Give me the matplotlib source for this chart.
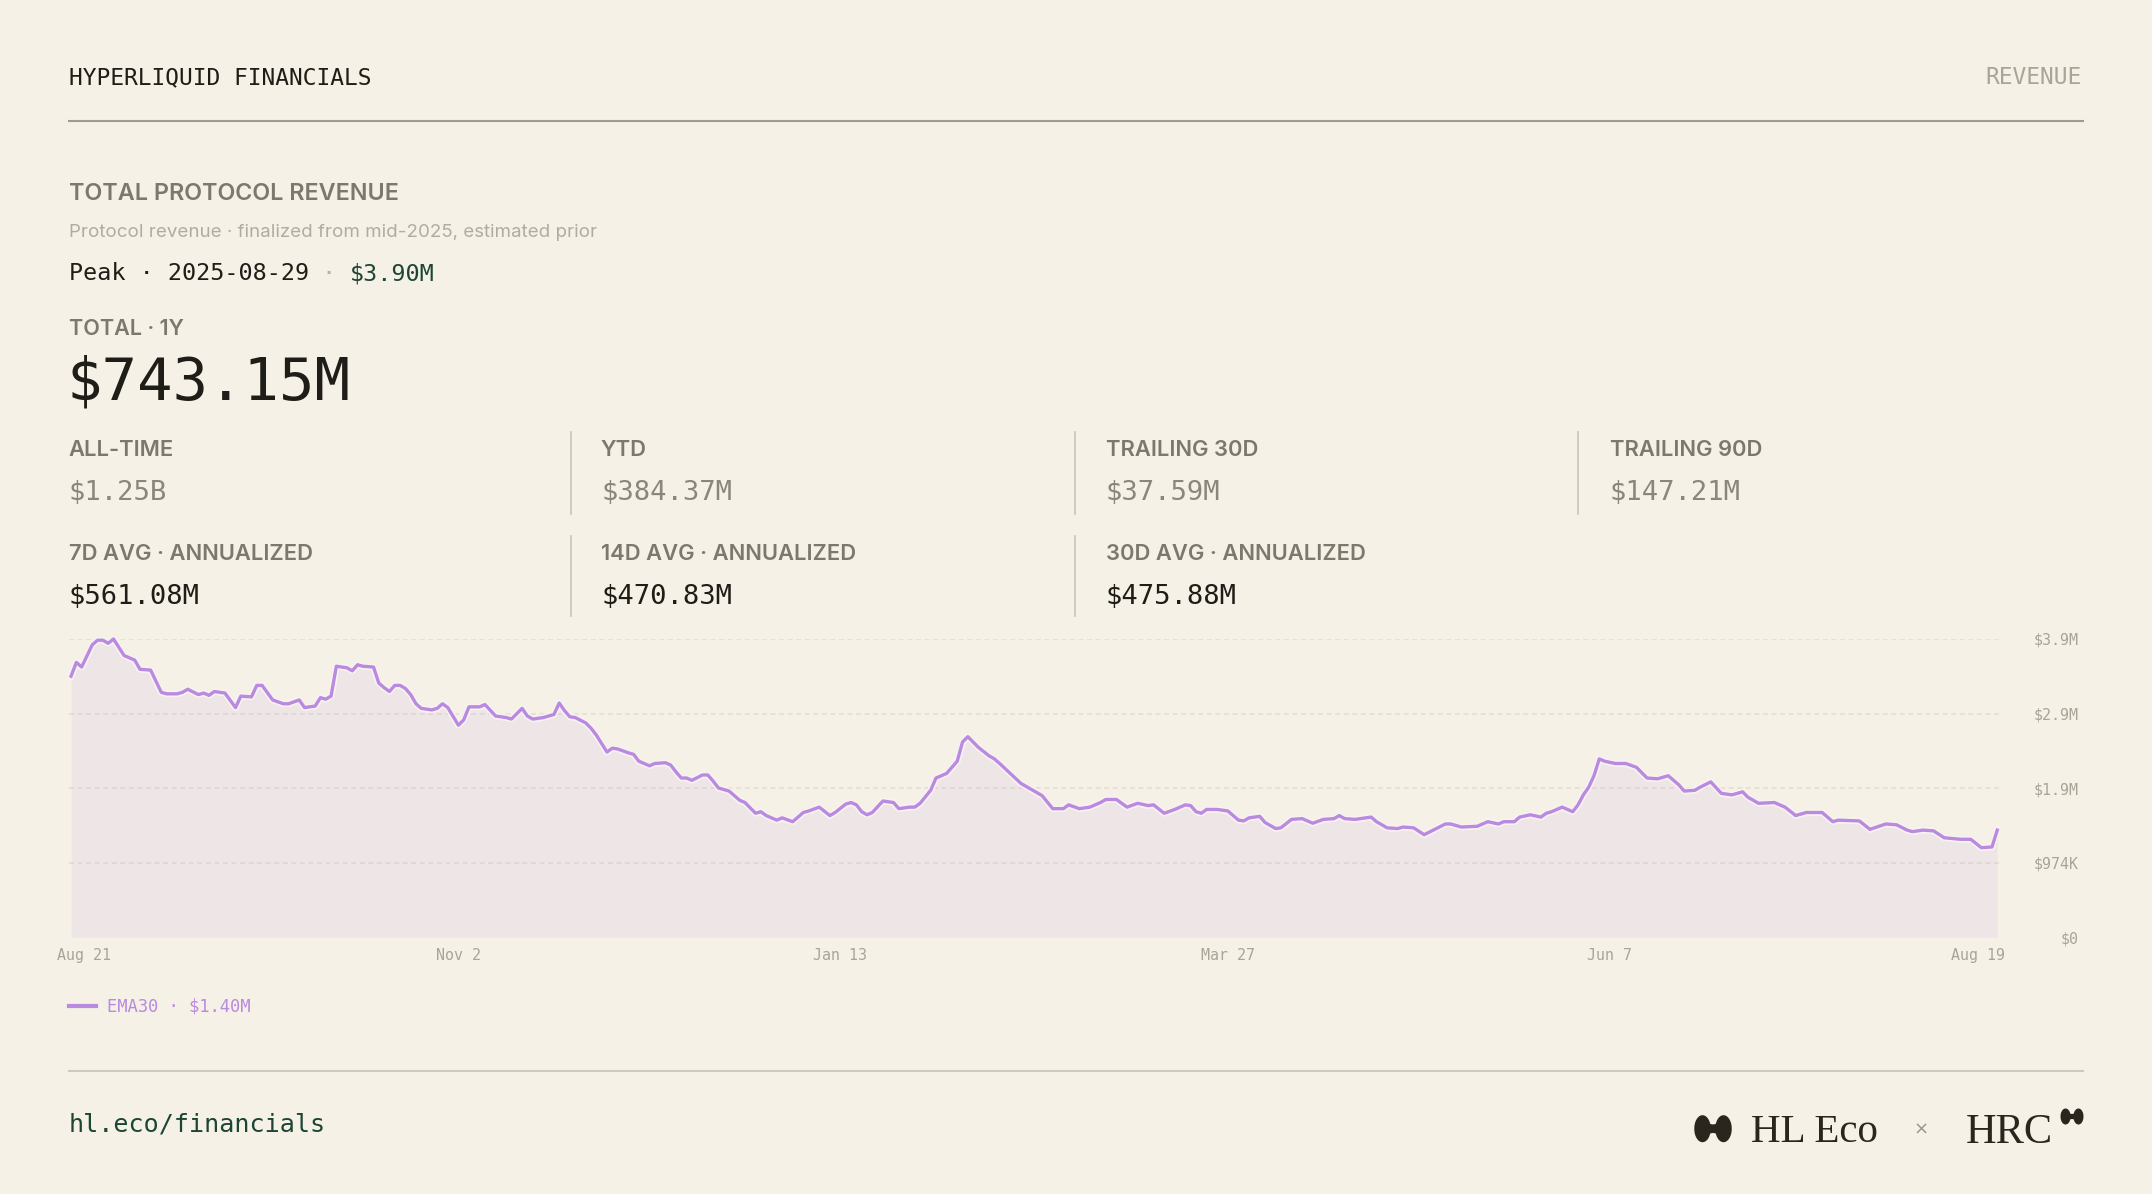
import numpy as np
import pandas as pd
import matplotlib
matplotlib.use('Agg')  # no display in the sandbox
import matplotlib.pyplot as plt
import matplotlib.transforms as mtransforms
import matplotlib.patheffects as pe
from matplotlib.lines import Line2D
from matplotlib.patches import Polygon

W, H = 2152, 1194
OUT_PATH = 'out.png'

# ─────────────────────────────────────────────────────────────────
# Data
# ─────────────────────────────────────────────────────────────────
START_DATE = pd.Timestamp('2025-08-21')

# day offset from START_DATE -> EMA30 of daily protocol revenue, $M
ema_days = [
    0, 1, 2, 4, 5, 6, 7, 8, 10, 12, 13, 15, 17, 18, 20, 21, 22, 24, 25, 26,
    27, 29, 31, 32, 34, 35, 36, 38, 40, 41, 43, 44, 46, 47, 48, 49, 50, 52, 53, 54,
    55, 57, 58, 59, 60, 61, 62, 63, 64, 65, 66, 68, 69, 70, 71, 73, 74, 75, 77, 78,
    80, 82, 83, 85, 86, 87, 89, 91, 92,
    93, 94, 95, 97, 98, 99, 101, 102, 103, 105, 106, 107, 109, 110, 112, 113, 114, 115, 116, 117,
    119, 120, 121, 122, 123, 124, 126, 127, 129, 130, 131, 133, 134, 136, 138, 139, 141, 143, 144, 146,
    147, 148, 149, 150, 151, 153, 155, 156, 158, 159, 160, 162, 163, 165, 167, 168, 169, 171, 173, 174,
    175, 177, 179, 181, 183,
    185, 187, 188, 190, 192, 194, 195, 197, 199, 201, 203, 204, 206, 208, 210, 211, 212, 213, 214, 216,
    218, 220, 221, 222, 224, 225, 227, 228, 230, 232, 234, 236, 238, 239, 240, 242, 243, 245, 246, 248,
    250, 251, 253, 255, 257, 259, 260, 262, 265, 267, 269, 270, 272, 273, 275,
    277, 278, 279, 281, 283, 284, 285, 286, 287, 288, 289, 291, 293, 295, 297, 299, 301, 303, 304, 306,
    307, 309, 311, 313, 315, 316, 318, 321, 323, 325, 327, 330, 332, 333, 337, 339, 342, 344, 346, 347,
    349, 351, 353, 356, 358, 360, 362, 363,
]
ema_values = [
    3.41, 3.59, 3.53, 3.82, 3.88, 3.88, 3.84, 3.896, 3.68, 3.62, 3.50, 3.49, 3.20, 3.18, 3.18, 3.20, 3.24, 3.17, 3.19, 3.16,
    3.21, 3.19, 3.00, 3.15, 3.14, 3.29, 3.29, 3.10, 3.05, 3.05, 3.10, 3.00, 3.02, 3.13, 3.11, 3.15, 3.54, 3.52, 3.48, 3.56,
    3.54, 3.53, 3.32, 3.26, 3.21, 3.29, 3.29, 3.25, 3.17, 3.05, 2.99, 2.97, 2.99, 3.05, 3.00, 2.77, 2.84, 3.01, 3.01, 3.04,
    2.89, 2.87, 2.85, 2.99, 2.89, 2.85, 2.87, 2.91, 3.06,
    2.96, 2.88, 2.87, 2.80, 2.73, 2.64, 2.42, 2.47, 2.46, 2.41, 2.39, 2.30, 2.24, 2.27, 2.28, 2.25, 2.16, 2.08, 2.08, 2.05,
    2.12, 2.12, 2.04, 1.95, 1.93, 1.91, 1.79, 1.76, 1.62, 1.64, 1.59, 1.53, 1.56, 1.51, 1.63, 1.65, 1.70, 1.59, 1.63, 1.74,
    1.76, 1.73, 1.64, 1.60, 1.63, 1.78, 1.76, 1.68, 1.70, 1.70, 1.75, 1.92, 2.08, 2.14, 2.30, 2.55, 2.62, 2.48, 2.37, 2.33,
    2.27, 2.14, 2.01, 1.93, 1.85,
    1.68, 1.68, 1.73, 1.68, 1.70, 1.76, 1.80, 1.80, 1.70, 1.75, 1.72, 1.73, 1.62, 1.67, 1.73, 1.72, 1.64, 1.62, 1.67, 1.67,
    1.65, 1.53, 1.52, 1.56, 1.58, 1.50, 1.42, 1.43, 1.54, 1.55, 1.49, 1.54, 1.55, 1.59, 1.55, 1.54, 1.55, 1.57, 1.51, 1.43,
    1.42, 1.44, 1.43, 1.34, 1.41, 1.48, 1.48, 1.44, 1.45, 1.51, 1.48, 1.51, 1.51, 1.57, 1.60,
    1.57, 1.62, 1.64, 1.70, 1.64, 1.73, 1.86, 1.96, 2.11, 2.33, 2.30, 2.27, 2.27, 2.22, 2.08, 2.07, 2.11, 1.99, 1.91, 1.92,
    1.96, 2.03, 1.88, 1.86, 1.90, 1.83, 1.75, 1.76, 1.70, 1.59, 1.63, 1.63, 1.51, 1.53, 1.52, 1.41, 1.48, 1.47, 1.40, 1.38,
    1.40, 1.39, 1.30, 1.28, 1.28, 1.17, 1.18, 1.40,
]

tick_days = [0, 73, 145, 218, 290, 363]
tick_labels = ['Aug 21', 'Nov 2', 'Jan 13', 'Mar 27', 'Jun 7', 'Aug 19']

total_1y = '$743.15M'
peak_date = '2025-08-29'
peak_value = '$3.90M'

row1_labels = ['ALL-TIME', 'YTD', 'TRAILING 30D', 'TRAILING 90D']
row1_values = ['$1.25B', '$384.37M', '$37.59M', '$147.21M']
row2_labels = ['7D AVG · ANNUALIZED', '14D AVG · ANNUALIZED', '30D AVG · ANNUALIZED']
row2_values = ['$561.08M', '$470.83M', '$475.88M']

# ─────────────────────────────────────────────────────────────────
# Style
# ─────────────────────────────────────────────────────────────────
BG = '#f5f1e7'
INK = '#1f1d17'
LABEL = '#7d786c'
MUTED = '#a9a496'
GREEN = '#1d4535'
PURPLE = '#b98ae0'
GRID = '#e2dbd0'
LOGO = '#2a251d'
MONO = 'DejaVu Sans Mono'
SANS = 'Inter'

fig = plt.figure(figsize=(W / 100, H / 100), dpi=100, facecolor=BG)


def put(x, y, s, **kw):
    # position in pixels from the top-left corner
    return fig.text(x / W, 1 - y / H, s, **kw)


def hline(x0, x1, y, color, lw):
    fig.add_artist(Line2D([x0 / W, x1 / W], [1 - y / H] * 2, color=color,
                          lw=lw, transform=fig.transFigure))


def vline(x, y0, y1, color, lw):
    fig.add_artist(Line2D([x / W] * 2, [1 - y0 / H, 1 - y1 / H], color=color,
                          lw=lw, transform=fig.transFigure))


def bowtie(cx, cy, w, h, color):
    # two rounded lobes joined by a pinched waist
    t = np.linspace(-1, 1, 241)
    c, r = 0.56, 0.44
    lobe = np.sqrt(np.clip(1 - ((np.abs(t) - c) / r) ** 2, 0, None))
    waist = np.where(np.abs(t) < c, 0.32 + 0.5 * (t / c) ** 2, 0)
    half = 0.5 * h * np.maximum(lobe, waist)
    xs = np.concatenate([cx + t * w / 2, (cx + t * w / 2)[::-1]])
    ys = np.concatenate([cy - half, (cy + half)[::-1]])
    fig.add_artist(Polygon(np.column_stack([xs / W, 1 - ys / H]), closed=True,
                           facecolor=color, edgecolor='none', transform=fig.transFigure))


# ── Header ───────────────────────────────────────────────────────
put(68.6, 84.3, 'HYPERLIQUID FINANCIALS', family=MONO, fontsize=16.5, color=INK, va='baseline')
put(2082, 84.3, 'REVENUE', family=MONO, fontsize=16.5, color=MUTED, va='baseline', ha='right')
hline(68.6, 2083, 121, '#a29a8b', 1.5)

put(68.6, 200, 'TOTAL PROTOCOL REVENUE', family=SANS, fontsize=16.8, weight='semibold',
    color=LABEL, va='baseline')
put(68.6, 237.3, 'Protocol revenue · finalized from mid-2025, estimated prior',
    family=SANS, fontsize=13.5, color='#b1ac9f', va='baseline')

# peak line, monospaced so pieces line up by character count
peak_fs = 16.8
pitch = 0.602 * peak_fs * 100 / 72
head = f'Peak · {peak_date}'
put(68.6, 280, head, family=MONO, fontsize=peak_fs, color=INK, va='baseline')
put(68.6 + pitch * (len(head) + 1), 280, '·', family=MONO, fontsize=peak_fs,
    color='#b5b0a4', va='baseline')
put(68.6 + pitch * (len(head) + 3), 280, peak_value, family=MONO, fontsize=peak_fs,
    color=GREEN, va='baseline')

put(68.6, 335, 'TOTAL · 1Y', family=SANS, fontsize=15.5, weight='semibold', color=LABEL, va='baseline')
put(66, 400, total_1y, family=MONO, fontsize=42.5, color=INK, va='baseline')

# ── Stat grid ────────────────────────────────────────────────────
col_x = [68.6, 601, 1106, 1610]
sep_x = [571, 1074.6, 1578]
for i, (lab, val) in enumerate(zip(row1_labels, row1_values)):
    put(col_x[i], 456, lab, family=SANS, fontsize=15.8, weight='semibold', color=LABEL, va='baseline')
    put(col_x[i], 500, val, family=MONO, fontsize=19.5, color='#8b867b', va='baseline')
for x in sep_x:
    vline(x, 432, 514, '#cbc5b8', 1.2)
for i, (lab, val) in enumerate(zip(row2_labels, row2_values)):
    put(col_x[i], 560, lab, family=SANS, fontsize=15.8, weight='semibold', color=LABEL, va='baseline')
    put(col_x[i], 604, val, family=MONO, fontsize=19.5, color=INK, va='baseline')
for x in sep_x[:2]:
    vline(x, 536, 616, '#cbc5b8', 1.2)

# ── Chart ────────────────────────────────────────────────────────
ax_l, ax_r, ax_t, ax_b = 68.6, 2001, 639, 937.3
ax = fig.add_axes([ax_l / W, 1 - ax_b / H, (ax_r - ax_l) / W, (ax_b - ax_t) / H])
ax.set_facecolor('none')
for s in ax.spines.values():
    s.set_visible(False)

dates = START_DATE + pd.to_timedelta(ema_days, unit='D')
values = np.array(ema_values) * 1e6
ymax = values.max()
yticks = [ymax * i / 4 for i in range(5)]


def money(v):
    if v >= 1e6:
        return f'${v / 1e6:.1f}M'
    if v >= 1e3:
        return f'${v / 1e3:.0f}K'
    return '$0'


for yv in yticks[1:]:
    ax.axhline(yv, color=GRID, lw=1.1, dashes=(3.2, 2.4), zorder=0.5)

ax.fill_between(dates, values, 0, color=PURPLE, alpha=0.10, lw=0, zorder=1)
ax.plot(dates, values, color=PURPLE, lw=2.4, zorder=3, clip_on=False,
        path_effects=[pe.Stroke(linewidth=4.8, foreground='#f8f3f1'), pe.Normal()])

ax.set_xlim(START_DATE - pd.Timedelta(hours=11), START_DATE + pd.Timedelta(days=363.7))
ax.set_ylim(0, ymax)

ax.set_xticks(START_DATE + pd.to_timedelta(tick_days, unit='D'))
ax.set_xticklabels(tick_labels, family=MONO, fontsize=10.8, color=MUTED)
ax.tick_params(axis='x', length=0, pad=8)
xl = ax.get_xticklabels()
xl[0].set_transform(xl[0].get_transform() + mtransforms.ScaledTranslation(0.13, 0, fig.dpi_scale_trans))
xl[-1].set_transform(xl[-1].get_transform() + mtransforms.ScaledTranslation(-0.19, 0, fig.dpi_scale_trans))

ax.yaxis.tick_right()
ax.set_yticks(yticks, [money(v) for v in yticks], family=MONO, fontsize=10.8,
              color=MUTED, ha='right')
ax.tick_params(axis='y', length=0, pad=56)

# legend
hline(68.6, 96, 1006, PURPLE, 3)
put(107, 1006, f'EMA30 · ${ema_values[-1]:.2f}M', family=MONO, fontsize=12.3,
    color=PURPLE, va='center')

# ── Footer ───────────────────────────────────────────────────────
hline(68.6, 2083, 1071, '#cfcabc', 1.5)
put(68.6, 1132, 'hl.eco/financials', family=MONO, fontsize=18.1, color=GREEN, va='baseline')

bowtie(1713, 1128.7, 37.5, 27, LOGO)
put(1751, 1142.3, 'HL Eco', family='Liberation Serif', fontsize=29.5, color=LOGO, va='baseline')
put(1921.5, 1130, '×', family='DejaVu Sans', fontsize=13, color='#9a958a', va='center', ha='center')
put(1966, 1143.3, 'HRC', family='Liberation Serif', fontsize=30.5, color=LOGO, va='baseline')
bowtie(2072, 1116.5, 23, 16, LOGO)

fig.savefig(OUT_PATH, dpi=100, facecolor=BG)
plt.close(fig)
